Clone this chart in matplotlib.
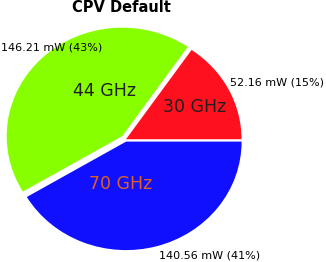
import matplotlib

matplotlib.use("Agg")
import matplotlib.pyplot as plt

# slices, counter-clockwise from 3 o'clock
bands = ["30 GHz", "44 GHz", "70 GHz"]
power_mw = [52.16, 146.21, 140.56]
colors = ["#ff101e", "#88ff00", "#1010ff"]
band_text_colors = ["#202020", "#202020", "#e06020"]

W, H = 326, 262
CX, CY = 125.5, 139.5   # pie centre, pixels from top-left
RX, RY = 115.5, 108.5   # slightly elliptical pie

fig = plt.figure(figsize=(W / 100, H / 100), dpi=100)
ax = fig.add_axes([0, 0, 1, 1])
ax.pie(
    power_mw, colors=colors, startangle=0, counterclock=True,
    explode=[0.005, 0.042, 0.02], radius=1, center=(0, 0), frame=True,
)
ax.set_xlim(-CX / RX, (W - CX) / RX)
ax.set_ylim(-(H - CY) / RY, CY / RY)
ax.set_aspect("auto")
ax.axis("off")


def px(x, y):
    return x / W, 1 - y / H


total = sum(power_mw)
band_pos = [(195, 107), (105, 91), (121, 184)]
value_pos = [(230, 83), (1, 48), (159, 256)]
for name, v, tc, bp, vp in zip(bands, power_mw, band_text_colors, band_pos, value_pos):
    fig.text(*px(*bp), name, ha="center", va="center", fontsize=12.5, color=tc)
    fig.text(*px(*vp), f"{v:.2f} mW ({100 * v / total:.0f}%)",
             ha="left", va="center", fontsize=8, color="black")

fig.text(*px(121, 8), "CPV Default", ha="center", va="center",
         fontsize=10.5, fontweight="bold")

fig.savefig("out.png", dpi=100)
